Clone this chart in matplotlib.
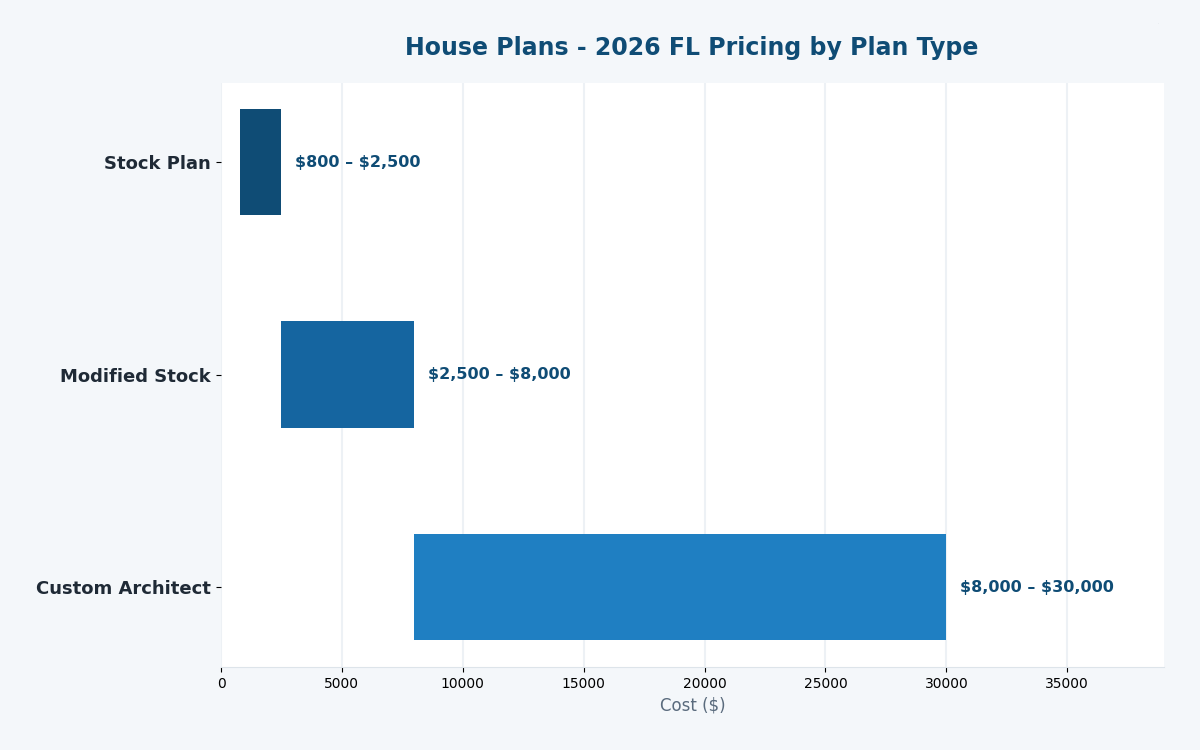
import matplotlib.pyplot as plt

categories = ["Stock Plan", "Modified Stock", "Custom Architect"]
low_values = [800, 2500, 8000]
high_values = [2500, 8000, 30000]
labels = ["$800 – $2,500", "$2,500 – $8,000", "$8,000 – $30,000"]
colors = ["#0f4c75", "#1565a0", "#1f7fc2"]

fig = plt.figure(figsize=(12, 7.5), dpi=100, facecolor="#f4f7fa")
ax = fig.add_axes([221/1200, 1 - 667/750, (1164-221)/1200, (667-83)/750])
ax.set_facecolor("white")

ypos = list(range(len(categories)))
widths = [h - l for l, h in zip(low_values, high_values)]
ax.barh(ypos, widths, left=low_values, height=0.5, color=colors, zorder=3)

for y, h, lab in zip(ypos, high_values, labels):
    ax.annotate(lab, xy=(h, y), xytext=(10, 0), textcoords="offset points",
                va="center", ha="left", fontsize=11.5, fontweight="bold",
                color="#0f4c75", zorder=4, parse_math=False)

ax.set_yticks(ypos)
ax.set_yticklabels(categories, fontsize=13, fontweight="bold", color="#1f2a36")
ax.tick_params(axis="y", pad=4)
ax.set_xlim(0, 39000)
ax.set_ylim(2.376, -0.372)
ax.set_xticks([0, 5000, 10000, 15000, 20000, 25000, 30000, 35000])
ax.tick_params(axis="x", labelsize=10, colors="#000000")
ax.grid(axis="x", color="#edf1f5", linewidth=1.5, zorder=0)
ax.set_axisbelow(True)
for s in ["top", "right", "left"]:
    ax.spines[s].set_visible(False)
ax.spines["bottom"].set_color("#dde4ea")
ax.set_xlabel("Cost ($)", fontsize=12, color="#5a6b7d")

fig.text(692/1200, 1 - 48/750, "House Plans - 2026 FL Pricing by Plan Type",
         ha="center", va="center", fontsize=17, fontweight="bold", color="#0f4c75")
fig.text(1158/1200, 1 - 24/750, "·", ha="center", va="center", fontsize=2, color="#aab4bf")

fig.savefig("out.png", dpi=100, facecolor=fig.get_facecolor())
